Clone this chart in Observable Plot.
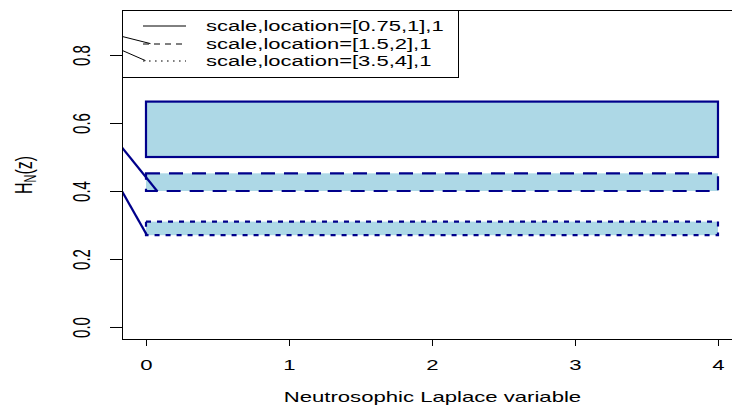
<!DOCTYPE html>
<html><head><meta charset="utf-8">
<script src="https://cdn.jsdelivr.net/npm/d3@7"></script>
<script src="https://cdn.jsdelivr.net/npm/@observablehq/plot@0.6"></script>
<style>
body{margin:0;background:#fff;}
#wrap{position:relative;width:732px;height:407px;font-family:"Liberation Sans",Arial,sans-serif;color:#000;}
#legend{position:absolute;left:122px;top:10px;width:337px;height:68px;border:1px solid #000;box-sizing:border-box;}
.row{position:absolute;left:0;height:18px;width:330px;}
.row svg{position:absolute;left:20px;top:0;}
.lab{position:absolute;left:83px;top:0;white-space:nowrap;font-size:14px;line-height:18px;transform:scaleX(1.57);transform-origin:0 50%;}
#ylab{position:absolute;left:27px;top:175px;font-size:16px;line-height:18px;white-space:nowrap;transform:translate(-50%,-50%) rotate(-90deg) scaleY(1.5);}
#ylab sub{font-size:11px;vertical-align:-3px;}
</style></head><body><div id="wrap"></div>
<script>
// ---- data ----
const seriesNames = ["scale,location=[0.75,1],1", "scale,location=[1.5,2],1", "scale,location=[3.5,4],1"];
const zStart = [0, 0, 0];
const zEnd = [4, 4, 4];
const hLow = [0.5, 0.4, 0.27];
const hHigh = [0.663, 0.452, 0.31];
// connecting (clipped) curve pieces
const blueZ0 = [-0.17, -0.17];
const blueZ1 = [0.077, 0.0];
const blueH0 = [0.529, 0.4];
const blueH1 = [0.4, 0.274];
const blackZ0 = [-0.17, -0.17];
const blackZ1 = [0.028, -0.007];
const blackH0 = [0.856, 0.815];
const blackH1 = [0.835, 0.785];
const xTicks = [0, 1, 2, 3, 4];
const yTicks = [0, 0.2, 0.4, 0.6, 0.8];
const xLabel = "Neutrosophic Laplace variable";

// ---- styles ----
const dashStyles = [null, "14,9", "5,6"];
const legendDash = [null, "6,5", "1.6,4.4"];
const FILL = "#ADD8E6", STROKE = "#00008B";
const xDomain = [-0.1678, 4.098];
const yDomain = [-0.0353, 0.9324];
const SX = 1.58;

const idx = seriesNames.map((d, i) => i);
const marks = [];
idx.forEach(i => {
  marks.push(Plot.rect([i], {
    x1: j => zStart[j], x2: j => zEnd[j], y1: j => hLow[j], y2: j => hHigh[j],
    fill: FILL, stroke: STROKE, strokeWidth: 2.2,
    strokeDasharray: dashStyles[i] || undefined
  }));
});
marks.push(Plot.link([0, 1], {
  x1: j => blueZ0[j], x2: j => blueZ1[j], y1: j => blueH0[j], y2: j => blueH1[j],
  stroke: STROKE, strokeWidth: 2.2, clip: true
}));
marks.push(Plot.link([0, 1], {
  x1: j => blackZ0[j], x2: j => blackZ1[j], y1: j => blackH0[j], y2: j => blackH1[j],
  stroke: "#000", strokeWidth: 1, clip: true
}));
marks.push(Plot.ruleX([xDomain[0]], {stroke: "#000"}));
marks.push(Plot.ruleY([yDomain[0]], {stroke: "#000"}));
marks.push(Plot.ruleY([yDomain[1]], {stroke: "#000"}));
marks.push(Plot.axisX({ticks: xTicks, tickSize: 7, tickPadding: 14, tickFormat: d3.format("d"), label: null}));
marks.push(Plot.axisY({ticks: yTicks, tickSize: 12, tickPadding: 24, tickRotate: -90, tickFormat: d3.format(".1f"), label: null, fontSize: 15}));
marks.push(Plot.text([xLabel], {frameAnchor: "bottom", dy: 62, dx: 5, text: d => d, fontSize: 14}));

const chart = Plot.plot({
  width: 732, height: 407,
  marginLeft: 122, marginRight: 0, marginTop: 10, marginBottom: 68,
  x: {domain: xDomain},
  y: {domain: yDomain},
  style: {fontFamily: "'Liberation Sans', Arial, sans-serif", fontSize: "14px", color: "#000", background: "#fff", overflow: "visible"},
  marks
});
const wrap = document.getElementById("wrap");
wrap.appendChild(chart);

// horizontal stretch of text (reference is horizontally stretched)
chart.querySelectorAll("text").forEach(t => {
  const b = t.getBBox();
  const cx = b.x + b.width / 2, cy = b.y + b.height / 2;
  const tr = t.getAttribute("transform") || "";
  const rot = /rotate\((-?90|270)/.test(tr);
  const s = rot ? `scale(1,${SX})` : `scale(${SX},1)`;
  t.setAttribute("transform", `${tr} translate(${cx},${cy}) ${s} translate(${-cx},${-cy})`);
});

// legend
const legend = document.createElement("div");
legend.id = "legend";
const rowCenters = [15, 32.5, 50];
idx.forEach(i => {
  const row = document.createElement("div");
  row.className = "row";
  row.style.top = (rowCenters[i] - 9) + "px";
  row.innerHTML = `<svg width="44" height="18"><line x1="0" x2="43" y1="9" y2="9" stroke="#000" stroke-width="1" ${legendDash[i] ? `stroke-dasharray="${legendDash[i]}"` : ""}/></svg><span class="lab">${seriesNames[i]}</span>`;
  legend.appendChild(row);
});
wrap.appendChild(legend);

const ylab = document.createElement("div");
ylab.id = "ylab";
ylab.innerHTML = "H<sub>N</sub>(z)";
wrap.appendChild(ylab);
</script>
</body></html>
